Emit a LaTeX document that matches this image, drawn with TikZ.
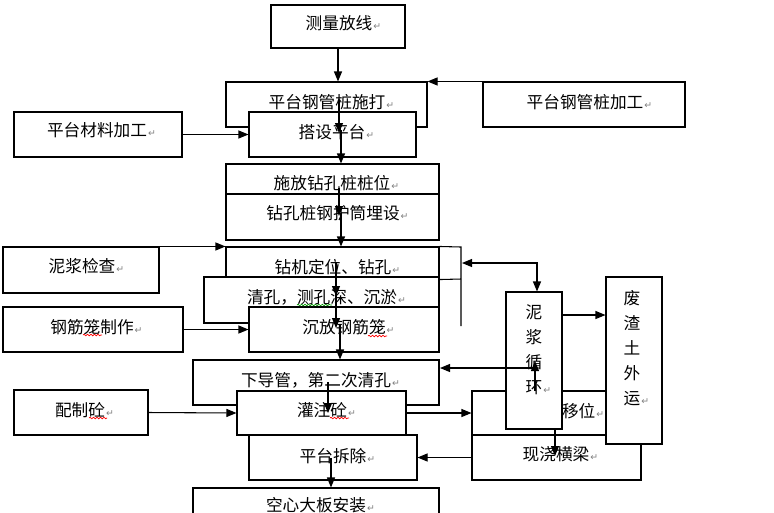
\documentclass[tikz,border=0pt]{standalone}
\usepackage{fontspec}
\setmainfont{Noto Sans CJK SC}
\newfontfamily\dejavu{DejaVu Sans}
\usetikzlibrary{arrows.meta,fit,decorations.pathmorphing}
\newcommand{\pmark}{\rlap{\hspace{0.8pt}\textcolor{gray}{\fontsize{7}{7}\selectfont\dejavu ↵}}}
\begin{document}
\begin{tikzpicture}[x=0.75pt,y=-0.75pt,
  box/.style={draw, fill=white, inner sep=0pt, line width=0.8pt},
  txt/.style={inner sep=0pt, font=\fontsize{12.5}{15}\selectfont},
  vtxt/.style={inner sep=0pt, align=center, font=\fontsize{12.5}{18.75}\selectfont},
  arr/.style={-{Triangle[length=7.5pt,width=6pt]}, line width=0.8pt},
  darr/.style={{Triangle[length=7.5pt,width=6pt]}-{Triangle[length=7.5pt,width=6pt]}, line width=0.8pt},
  ln/.style={line width=0.8pt},
  wavy/.style={decorate, decoration={snake, amplitude=0.6pt, segment length=2.6pt}, line width=0.5pt}]
\path[fill=white] (0,0) rectangle (774,512);
\useasboundingbox (0,0) rectangle (774,512);

% top part
\node[box, fit={(271,5)(405,48)}] (clfx) {};
\node[txt] at (339,23) {测量放线\pmark};
\node[box, fit={(226,82)(427,127)}] (shida) {};
\node[txt] at (327,102) {平台钢管桩施打\pmark};
\node[box, fit={(483,82)(685,127)}] (gjjg) {};
\node[txt] at (585,102) {平台钢管桩加工\pmark};
\node[box, fit={(249,112)(416,157)}] (dspt) {};
\node[txt] at (332,132) {搭设平台\pmark};
\node[box, fit={(14,112)(182,157)}] (cljg) {};
\node[txt] at (97,130) {平台材料加工\pmark};
\node[box, fit={(226,164)(439,194)}] (sf) {};
\node[txt] at (332,183) {施放钻孔桩桩位\pmark};
\node[box, fit={(226,194)(439,240)}] (zkz) {};
\node[txt] at (333,213) {钻孔桩钢护筒埋设\pmark};

% drilling part
\node[box, fit={(226,247)(439,279)}] (zj) {};
\node[txt] at (333,267) {钻机定位、钻孔\pmark};
\node[box, fit={(204,277)(439,323)}] (qk) {};
\node[txt] at (322,297) {清孔，测孔深、沉淤\pmark};
\node[box, fit={(249,307)(439,352)}] (cf) {};
\node[txt] at (344,327) {沉放钢筋笼\pmark};
\node[box, fit={(3,247)(159,293)}] (njjc) {};
\node[txt] at (82,266) {泥浆检查\pmark};
\node[box, fit={(3,307)(183,352)}] (gjlz) {};
\node[txt] at (92,327) {钢筋笼制作\pmark};

% concrete part
\node[box, fit={(193,360)(439,405)}] (xdg) {};
\node[txt] at (316,380) {下导管，第二次清孔\pmark};
\node[box, fit={(237,391)(406,435)}] (gz) {};
\node[txt] at (322,410) {灌注砼\pmark};
\node[box, fit={(14,390)(148,435)}] (pzt) {};
\node[txt] at (80,410) {配制砼\pmark};
\node[box, fit={(249,435)(417,480)}] (ptcc) {};
\node[txt] at (333,456) {平台拆除\pmark};
\node[box, fit={(193,488)(439,535)}] (kx) {};
\node[txt] at (316,505) {空心大板安装\pmark};

% right part
\node[box, fit={(472,391)(641,435)}] (zjyw) {};
\node[txt] at (562,411) {钻机移位\pmark};
\node[box, fit={(472,435)(641,480)}] (xj) {};
\node[txt] at (556,454) {现浇横梁\pmark};
\node[box, fit={(506,292)(562,429)}] (njxh) {};
\node[vtxt] at (534,349.5) {泥\\浆\\循\\环\pmark};
\node[box, fit={(606,277)(662,444)}] (fz) {};
\node[vtxt] at (632,348) {废\\渣\\土\\外\\运\pmark};

% spell-check underlines
\draw[wavy, green!60!black] (297,305) -- (332,305);
\draw[wavy, red] (368,336) -- (387,336);
\draw[wavy, red] (83,335) -- (102,335);
\draw[wavy, red] (330,418) -- (349,418);
\draw[wavy, red] (89,418) -- (107,418);

% loose lines right of drilling box
\draw[ln] (zj.north east) -- (461,247) -- (461,326);
\draw[ln] (zj.south east) -- (461,279);

% named free ends
\coordinate (p1) at (339,100);
\coordinate (p2) at (339,133);
\coordinate (p3) at (341,130);
\coordinate (p4) at (339,188);
\coordinate (p5) at (339,216);
\coordinate (p6) at (341,213);
\coordinate (p7) at (336,262);
\coordinate (p8) at (336,296);
\coordinate (p9) at (336,294);
\coordinate (p10) at (336,328);
\coordinate (p11) at (340,325);
\coordinate (p12) at (328,382);
\coordinate (p13) at (328,413);
\coordinate (p14) at (331,458);
\coordinate (b1) at (462,263);
\coordinate (b2) at (537,263);
\coordinate (c1) at (535,391);
\coordinate (c2) at (535,361);
\coordinate (c3) at (535,368);
\coordinate (c4) at (440,368);
\coordinate (d1) at (555,429);
\coordinate (d2) at (555,456);

% connectors
\draw[arr] (clfx.south) -- (clfx.south |- shida.north);
\draw[arr] (gjjg.north west) -- (shida.north east);
\draw[arr] (cljg.east) -- (dspt.west);
\draw[arr] (p1) -- (p2);
\draw[arr] (p3) -- (p3 |- sf.north);
\draw[arr] (p4) -- (p5);
\draw[arr] (p6) -- (p6 |- zj.north);
\draw[arr] (njjc.north east) -- (zj.north west);
\draw[arr] (p7) -- (p8);
\draw[arr] (p9) -- (p10);
\draw[arr] (p11) -- (p11 |- xdg.north);
\draw[arr] (gjlz.east) -- (cf.west);
\draw[arr] (p12) -- (p13);
\draw[arr] (pzt.east) -- (gz.west);
\draw[arr] (gz.east) -- (zjyw.west);
\draw[arr] (xj.west) -- (ptcc.east);
\draw[arr] (p14) -- (p14 |- kx.north);
\draw[darr] (b1) -- (b2) -- (b2 |- njxh.north);
\draw[arr] (njxh.east |- 0,315) -- (fz.west |- 0,315);
\draw[arr] (c1) -- (c2);
\draw[arr] (c3) -- (c4);
\draw[arr] (d1) -- (d2);
\end{tikzpicture}
\end{document}
